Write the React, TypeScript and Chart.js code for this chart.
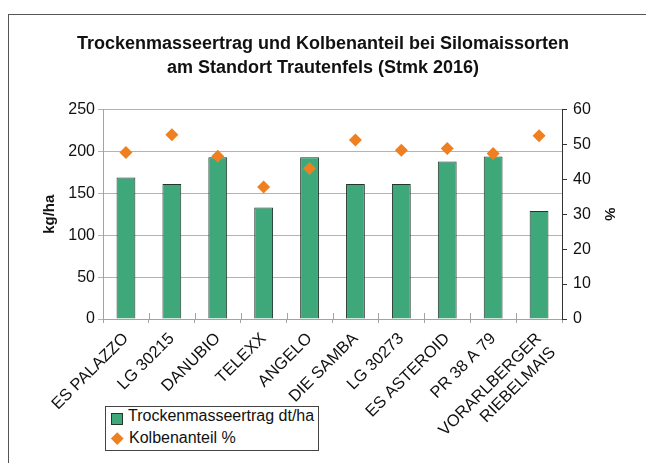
import React, { useEffect, useRef } from "react";
import { Chart, registerables } from "chart.js";

Chart.register(...registerables);

const FONT = "'Liberation Sans', Arial, Helvetica, sans-serif";

const titleLines = [
  "Trockenmasseertrag und Kolbenanteil bei Silomaissorten",
  "am Standort Trautenfels (Stmk 2016)",
];

const categories: (string | string[])[] = [
  "ES PALAZZO",
  "LG 30215",
  "DANUBIO",
  "TELEXX",
  "ANGELO",
  "DIE SAMBA",
  "LG 30273",
  "ES ASTEROID",
  "PR 38 A 79",
  ["VORARLBERGER", "RIEBELMAIS"],
];

const trockenmasse = [169, 161, 193, 133, 193, 161, 161, 188, 194, 129];
const kolbenanteil = [47.7, 52.8, 46.6, 37.8, 43.1, 51.3, 48.3, 48.8, 47.4, 52.5];

const seriesNames = ["Trockenmasseertrag dt/ha", "Kolbenanteil %"];
const leftAxisTitle = "kg/ha";
const rightAxisTitle = "%";

const GREEN = "#3ea87b";
const GREEN_BORDER = "#24362c";
const ORANGE = "#f07f20";
const GRID = "#b3b3b3";
const AXIS_GRAY = "#a3a3a3";
const DARK = "#333333";
const TEXT = "#111111";

const crossTicks = {
  id: "crossTicks",
  afterDraw(chart: any) {
    const x = chart.scales.x;
    const area = chart.chartArea;
    const ctx = chart.ctx;
    const n = chart.data.labels.length;
    const w = (area.right - area.left) / n;
    ctx.save();
    ctx.strokeStyle = AXIS_GRAY;
    ctx.lineWidth = 1;
    for (let i = 1; i < n; i++) {
      const px = Math.round(x.left + i * w) + 0.5;
      ctx.beginPath();
      ctx.moveTo(px, area.bottom - 6);
      ctx.lineTo(px, area.bottom);
      ctx.stroke();
    }
    ctx.restore();
  },
};

export default function App() {
  const ref = useRef<HTMLCanvasElement | null>(null);

  useEffect(() => {
    if (!ref.current) return;
    const chart = new Chart(ref.current, {
      type: "bar",
      data: {
        labels: categories as any,
        datasets: [
          {
            type: "line" as any,
            label: seriesNames[1],
            data: kolbenanteil,
            yAxisID: "y1",
            showLine: false,
            pointStyle: "rectRot",
            pointRadius: 6.5,
            pointBackgroundColor: ORANGE,
            pointBorderColor: ORANGE,
            pointBorderWidth: 0,
            backgroundColor: ORANGE,
            borderColor: ORANGE,
            order: 1,
          } as any,
          {
            type: "bar",
            label: seriesNames[0],
            data: trockenmasse,
            yAxisID: "y",
            backgroundColor: GREEN,
            borderColor: GREEN_BORDER,
            borderWidth: 1,
            barPercentage: 0.41,
            categoryPercentage: 1,
            order: 2,
          },
        ],
      },
      options: {
        responsive: false,
        animation: false,
        devicePixelRatio: 1,
        layout: { padding: 0 },
        plugins: {
          legend: { display: false },
          tooltip: { enabled: false },
          title: {
            display: true,
            text: titleLines,
            color: TEXT,
            font: { family: FONT, size: 18, weight: "bold", lineHeight: 1.32 },
            padding: { top: 32, bottom: 30 },
          },
        },
        scales: {
          x: {
            type: "category",
            offset: true,
            grid: {
              offset: true,
              drawOnChartArea: false,
              drawTicks: true,
              tickLength: 4,
              color: AXIS_GRAY,
            },
            border: { display: true, color: AXIS_GRAY },
            ticks: {
              autoSkip: false,
              minRotation: 45,
              maxRotation: 45,
              padding: 6,
              color: TEXT,
              font: { family: FONT, size: 16.5 },
            },
            afterFit: (s: any) => {
              s.height = 144;
            },
          },
          y: {
            position: "left",
            min: 0,
            max: 250,
            ticks: {
              stepSize: 50,
              padding: 3,
              color: TEXT,
              font: { family: FONT, size: 16 },
            },
            grid: { color: GRID, drawTicks: true, tickLength: 5 },
            border: { color: AXIS_GRAY },
            title: {
              display: true,
              text: leftAxisTitle,
              color: TEXT,
              font: { family: FONT, size: 15, weight: "bold", lineHeight: 1.2 },
              padding: { top: 41, bottom: 0 },
            },
            afterFit: (s: any) => {
              s.width = 103;
            },
          },
          y1: {
            position: "right",
            min: 0,
            max: 60,
            ticks: {
              stepSize: 10,
              padding: 6,
              color: TEXT,
              font: { family: FONT, size: 16 },
            },
            grid: {
              drawOnChartArea: false,
              drawTicks: true,
              tickLength: 5,
              color: DARK,
            },
            border: { color: DARK },
            title: {
              display: true,
              text: rightAxisTitle,
              color: TEXT,
              font: { family: FONT, size: 15, weight: "bold", lineHeight: 1.2 },
              padding: { top: 28, bottom: 0 },
            },
            afterFit: (s: any) => {
              s.width = 84;
            },
          },
        },
      },
      plugins: [crossTicks],
    });
    return () => chart.destroy();
  }, []);

  const legendText: React.CSSProperties = {
    position: "absolute",
    fontFamily: FONT,
    fontSize: 16,
    lineHeight: "18px",
    color: TEXT,
    whiteSpace: "nowrap",
  };

  return (
    <div
      style={{
        position: "fixed",
        left: 0,
        top: 0,
        width: 646,
        height: 463,
        overflow: "hidden",
        background: "#ffffff",
      }}
    >
      <div
        style={{
          position: "absolute",
          left: 8,
          top: 14,
          width: 700,
          height: 500,
          borderLeft: "1px solid #555",
          borderTop: "1px solid #555",
        }}
      />
      <canvas
        ref={ref}
        width={646}
        height={463}
        style={{ position: "absolute", left: 0, top: 0, width: 646, height: 463 }}
      />
      <div
        style={{
          position: "absolute",
          left: 105,
          top: 406,
          width: 214,
          height: 45,
          boxSizing: "border-box",
          border: "1px solid #444",
          background: "#fff",
        }}
      >
        <div
          style={{
            position: "absolute",
            left: 5,
            top: 6,
            width: 12,
            height: 12,
            boxSizing: "border-box",
            border: `1px solid ${GREEN_BORDER}`,
            background: GREEN,
          }}
        />
        <div style={{ ...legendText, left: 22, top: 0 }}>{seriesNames[0]}</div>
        <div
          style={{
            position: "absolute",
            left: 7,
            top: 27,
            width: 8.5,
            height: 8.5,
            background: ORANGE,
            transform: "rotate(45deg)",
          }}
        />
        <div style={{ ...legendText, left: 23, top: 22 }}>{seriesNames[1]}</div>
      </div>
    </div>
  );
}
